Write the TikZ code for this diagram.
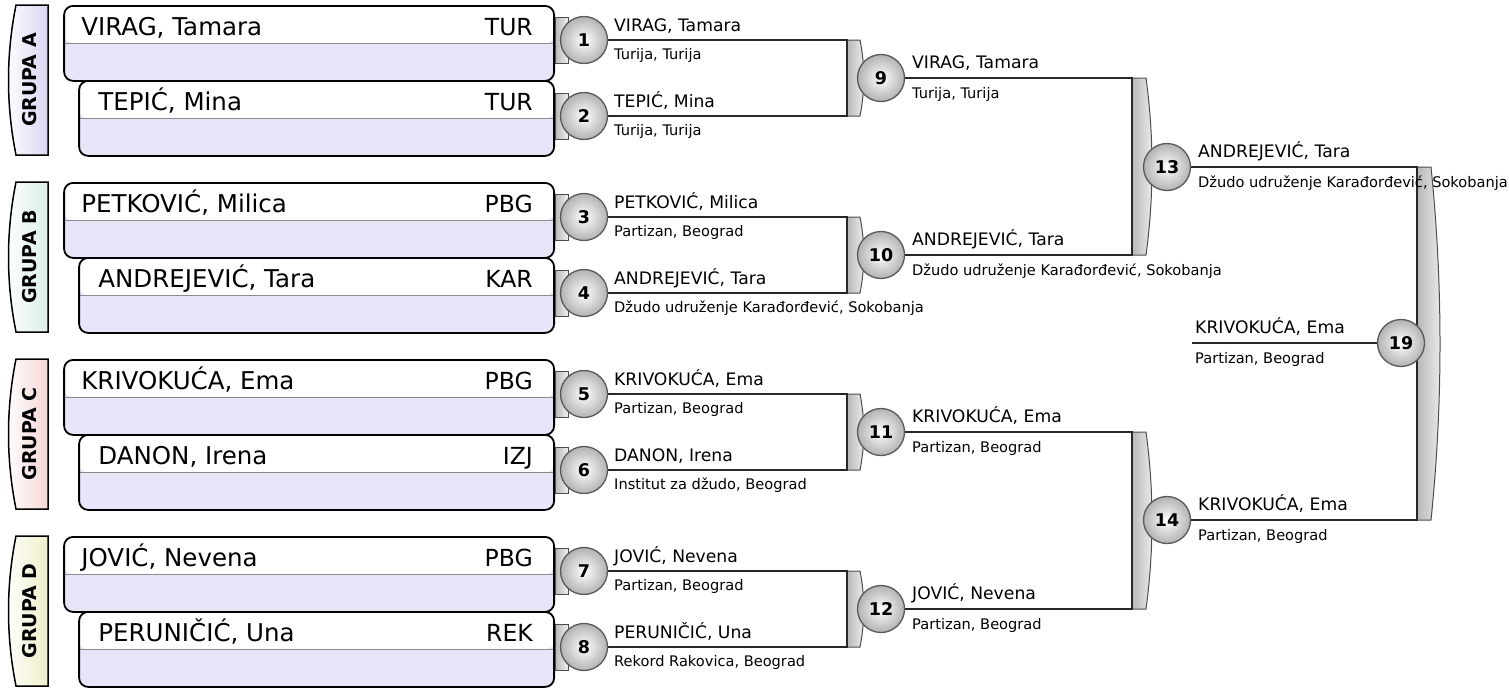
\documentclass[tikz,border=0pt]{standalone}
\usepackage{fontspec}
\setmainfont{DejaVu Sans}
\definecolor{lav}{RGB}{230,230,248}
\definecolor{tabA}{RGB}{214,214,242}
\definecolor{tabB}{RGB}{218,240,230}
\definecolor{tabC}{RGB}{246,214,214}
\definecolor{tabD}{RGB}{238,238,200}
\definecolor{wirec}{RGB}{40,40,40}
\tikzset{
  match/.style={circle,draw=black!65,line width=1.3pt,inner color=white,outer color=black!30,
    minimum size=47pt,inner sep=0pt,font=\fontsize{17.5}{17.5}\selectfont\bfseries},
  wire/.style={draw=wirec,line width=2.8pt},
  brk/.style={draw=black!70,line width=1pt,left color=black!28,right color=black!6},
  entrant/.style={draw,line width=1.8pt,rounded corners=9pt,fill=lav,minimum height=75pt,
    inner sep=0pt,anchor=north east,
    path picture={\fill[white] (path picture bounding box.north west) rectangle (path picture bounding box.east);
      \draw[black!45,line width=1pt] (path picture bounding box.west) -- (path picture bounding box.east);}},
  pname/.style={anchor=base west,inner sep=0pt,font=\fontsize{24.5}{24.5}\selectfont},
  pcode/.style={anchor=base east,inner sep=0pt,font=\fontsize{23.5}{23.5}\selectfont},
  wname/.style={anchor=base west,inner sep=0pt,font=\fontsize{17.2}{17.2}\selectfont},
  wclub/.style={anchor=base west,inner sep=0pt,font=\fontsize{14.6}{14.6}\selectfont},
  grp/.style={rotate=90,inner sep=0pt,font=\fontsize{19}{19}\selectfont\bfseries},
  tab/.style={draw,line width=1.5pt,left color=white,right color=#1}
}

\begin{document}
\begin{tikzpicture}[x=1pt,y=-1pt]
\useasboundingbox (0,0) rectangle (1509,688);

% groups
\path[tab=tabA] (48,5) -- (16,5) .. controls (6,55) and (6,105) .. (16,155) -- (48,155) -- cycle;
\path[tab=tabB] (48,182) -- (16,182) .. controls (6,232) and (6,282) .. (16,332) -- (48,332) -- cycle;
\path[tab=tabC] (48,359) -- (16,359) .. controls (6,409) and (6,459) .. (16,509) -- (48,509) -- cycle;
\path[tab=tabD] (48,536) -- (16,536) .. controls (6,586) and (6,636) .. (16,686) -- (48,686) -- cycle;
\node[grp] (GA) at (30,80) {GRUPA A};
\node[grp] (GB) at (30,257) {GRUPA B};
\node[grp] (GC) at (30,434) {GRUPA C};
\node[grp] (GD) at (30,611) {GRUPA D};

\node[entrant,minimum width=490pt] (P1) at (555,5) {};
\node[entrant,minimum width=475pt] (P2) at (555,80) {};
\node[entrant,minimum width=490pt] (P3) at (555,182) {};
\node[entrant,minimum width=475pt] (P4) at (555,257) {};
\node[entrant,minimum width=490pt] (P5) at (555,359) {};
\node[entrant,minimum width=475pt] (P6) at (555,434) {};
\node[entrant,minimum width=490pt] (P7) at (555,536) {};
\node[entrant,minimum width=475pt] (P8) at (555,611) {};

\node[pname] (n1) at ([shift={(18,30)}]P1.north west) {VIRAG, Tamara};
\node[pname] (n2) at ([shift={(20,30)}]P2.north west) {TEPIĆ, Mina};
\node[pname] (n3) at ([shift={(18,30)}]P3.north west) {PETKOVIĆ, Milica};
\node[pname] (n4) at ([shift={(20,30)}]P4.north west) {ANDREJEVIĆ, Tara};
\node[pname] (n5) at ([shift={(18,30)}]P5.north west) {KRIVOKUĆA, Ema};
\node[pname] (n6) at ([shift={(20,30)}]P6.north west) {DANON, Irena};
\node[pname] (n7) at ([shift={(18,30)}]P7.north west) {JOVIĆ, Nevena};
\node[pname] (n8) at ([shift={(20,30)}]P8.north west) {PERUNIČIĆ, Una};
\node[pcode] (t1) at ([shift={(-22,30)}]P1.north east) {TUR};
\node[pcode] (t2) at ([shift={(-22,30)}]P2.north east) {TUR};
\node[pcode] (t3) at ([shift={(-22,30)}]P3.north east) {PBG};
\node[pcode] (t4) at ([shift={(-22,30)}]P4.north east) {KAR};
\node[pcode] (t5) at ([shift={(-22,30)}]P5.north east) {PBG};
\node[pcode] (t6) at ([shift={(-22,30)}]P6.north east) {IZJ};
\node[pcode] (t7) at ([shift={(-22,30)}]P7.north east) {PBG};
\node[pcode] (t8) at ([shift={(-22,30)}]P8.north east) {REK};

% match points
\coordinate (c1) at (584,40);   \coordinate (c2) at (584,116);
\coordinate (c3) at (584,217);  \coordinate (c4) at (584,293);
\coordinate (c5) at (584,394);  \coordinate (c6) at (584,470);
\coordinate (c7) at (584,571);  \coordinate (c8) at (584,647);
\coordinate (c9) at (881,78);   \coordinate (c10) at (881,255);
\coordinate (c11) at (881,432); \coordinate (c12) at (881,609);
\coordinate (c13) at (1167,167); \coordinate (c14) at (1167,520);
\coordinate (c19) at (1401,343);
\coordinate (j9) at (847,78);   \coordinate (j10) at (847,255);
\coordinate (j11) at (847,432); \coordinate (j12) at (847,609);
\coordinate (j13) at (1132,167); \coordinate (j14) at (1132,520);
\coordinate (j19) at (1417,343);
\coordinate (k19) at (1192,343);

\path[brk] (555,17) rectangle (568,63);
\path[brk] (555,93) rectangle (568,139);
\path[brk] (555,194) rectangle (568,240);
\path[brk] (555,270) rectangle (568,316);
\path[brk] (555,371) rectangle (568,417);
\path[brk] (555,447) rectangle (568,493);
\path[brk] (555,548) rectangle (568,594);
\path[brk] (555,624) rectangle (568,670);

\path[brk] (847,40) -- (860,40) .. controls (865,65) and (865,91) .. (860,116) -- (847,116) -- cycle;
\path[brk] (847,217) -- (860,217) .. controls (865,242) and (865,268) .. (860,293) -- (847,293) -- cycle;
\path[brk] (847,394) -- (860,394) .. controls (865,419) and (865,445) .. (860,470) -- (847,470) -- cycle;
\path[brk] (847,571) -- (860,571) .. controls (865,596) and (865,622) .. (860,647) -- (847,647) -- cycle;
\path[brk] (1132,78) -- (1146,78) .. controls (1154,137) and (1154,196) .. (1146,255) -- (1132,255) -- cycle;
\path[brk] (1132,432) -- (1146,432) .. controls (1154,491) and (1154,550) .. (1146,609) -- (1132,609) -- cycle;
\path[brk] (1417,167) -- (1431,167) .. controls (1443,285) and (1443,403) .. (1431,520) -- (1417,520) -- cycle;

\draw[wire] (c1) -| (j9) |- (c2);
\draw[wire] (c3) -| (j10) |- (c4);
\draw[wire] (c5) -| (j11) |- (c6);
\draw[wire] (c7) -| (j12) |- (c8);
\draw[wire] (c9) -| (j13) |- (c10);
\draw[wire] (c11) -| (j14) |- (c12);
\draw[wire] (c13) -| (j19) |- (c14);
\draw[wire] (k19) -- (c19);

\node[match] (M1) at (c1) {1};   \node[match] (M2) at (c2) {2};
\node[match] (M3) at (c3) {3};   \node[match] (M4) at (c4) {4};
\node[match] (M5) at (c5) {5};   \node[match] (M6) at (c6) {6};
\node[match] (M7) at (c7) {7};   \node[match] (M8) at (c8) {8};
\node[match] (M9) at (c9) {9};   \node[match] (M10) at (c10) {10};
\node[match] (M11) at (c11) {11}; \node[match] (M12) at (c12) {12};
\node[match] (M13) at (c13) {13}; \node[match] (M14) at (c14) {14};
\node[match] (M19) at (c19) {19};

% winners
\node[wname] (w1) at ([shift={(30,-9)}]M1) {VIRAG, Tamara};
\node[wclub] (k1) at ([shift={(30,19)}]M1) {Turija, Turija};
\node[wname] (w2) at ([shift={(30,-9)}]M2) {TEPIĆ, Mina};
\node[wclub] (k2) at ([shift={(30,19)}]M2) {Turija, Turija};
\node[wname] (w3) at ([shift={(30,-9)}]M3) {PETKOVIĆ, Milica};
\node[wclub] (k3) at ([shift={(30,19)}]M3) {Partizan, Beograd};
\node[wname] (w4) at ([shift={(30,-9)}]M4) {ANDREJEVIĆ, Tara};
\node[wclub] (k4) at ([shift={(30,19)}]M4) {Džudo udruženje Karađorđević, Sokobanja};
\node[wname] (w5) at ([shift={(30,-9)}]M5) {KRIVOKUĆA, Ema};
\node[wclub] (k5) at ([shift={(30,19)}]M5) {Partizan, Beograd};
\node[wname] (w6) at ([shift={(30,-9)}]M6) {DANON, Irena};
\node[wclub] (k6) at ([shift={(30,19)}]M6) {Institut za džudo, Beograd};
\node[wname] (w7) at ([shift={(30,-9)}]M7) {JOVIĆ, Nevena};
\node[wclub] (k7) at ([shift={(30,19)}]M7) {Partizan, Beograd};
\node[wname] (w8) at ([shift={(30,-9)}]M8) {PERUNIČIĆ, Una};
\node[wclub] (k8) at ([shift={(30,19)}]M8) {Rekord Rakovica, Beograd};
\node[wname] (w9) at ([shift={(31,-10)}]M9) {VIRAG, Tamara};
\node[wclub] (k9) at ([shift={(31,20)}]M9) {Turija, Turija};
\node[wname] (w10) at ([shift={(31,-10)}]M10) {ANDREJEVIĆ, Tara};
\node[wclub] (k10) at ([shift={(31,20)}]M10) {Džudo udruženje Karađorđević, Sokobanja};
\node[wname] (w11) at ([shift={(31,-10)}]M11) {KRIVOKUĆA, Ema};
\node[wclub] (k11) at ([shift={(31,20)}]M11) {Partizan, Beograd};
\node[wname] (w12) at ([shift={(31,-10)}]M12) {JOVIĆ, Nevena};
\node[wclub] (k12) at ([shift={(31,20)}]M12) {Partizan, Beograd};
\node[wname] (w13) at ([shift={(31,-10)}]M13) {ANDREJEVIĆ, Tara};
\node[wclub] (k13) at ([shift={(31,20)}]M13) {Džudo udruženje Karađorđević, Sokobanja};
\node[wname] (w14) at ([shift={(31,-10)}]M14) {KRIVOKUĆA, Ema};
\node[wclub] (k14) at ([shift={(31,20)}]M14) {Partizan, Beograd};
\node[wname] (w19) at ([shift={(3,-10)}]k19) {KRIVOKUĆA, Ema};
\node[wclub] (k19l) at ([shift={(3,20)}]k19) {Partizan, Beograd};
\end{tikzpicture}
\end{document}
